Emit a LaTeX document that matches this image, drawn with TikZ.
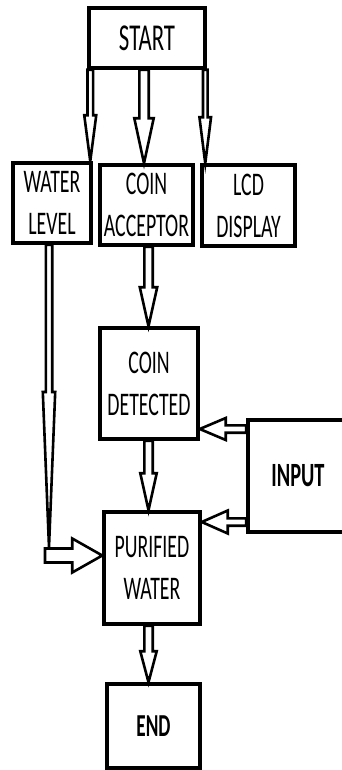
\documentclass[tikz,border=0pt]{standalone}
\usepackage{fontspec}
\newfontfamily\boxfont[FakeStretch=0.6]{Carlito}
\usetikzlibrary{calc}

\tikzset{
  box/.style={draw, line width=3.5pt, align=center, inner sep=0pt,
    font=\boxfont\fontsize{33}{42}\selectfont},
  arrowline/.style={draw, line width=2.6pt, fill=white, line join=miter},
}

% hollow block arrow: from, to, shaft half width, head half width, head length
\newcommand{\blockarrow}[5]{%
  \draw[arrowline] ($(#1)!#3!90:(#2)$) -- ($(#2)!#5!(#1)!#3!90:(#2)$)
    -- ($(#2)!#5!(#1)!#4!90:(#2)$) -- (#2)
    -- ($(#2)!#5!(#1)!#4!-90:(#2)$) -- ($(#2)!#5!(#1)!#3!-90:(#2)$)
    -- ($(#1)!#3!-90:(#2)$) -- cycle;}

\begin{document}
\begin{tikzpicture}[x=1pt, y=-1pt]
  \fill[white] (0,0) rectangle (342,770);
  \useasboundingbox (0,0) rectangle (342,770);

  % boxes
  \node[box, minimum width=116pt, minimum height=60pt,
    font=\boxfont\fontsize{38}{42}\selectfont] (start) at (147,38) {START};
  \node[box, minimum width=78pt, minimum height=80pt] (water) at (52,203) {WATER\\LEVEL};
  \node[box, minimum width=93pt, minimum height=80pt] (coinacc) at (146.5,205) {COIN\\ACCEPTOR};
  \node[box, minimum width=93pt, minimum height=81pt] (lcd) at (248.5,205.5) {LCD\\DISPLAY};
  \node[box, minimum width=98pt, minimum height=111pt] (coindet) at (149,383.5) {COIN\\DETECTED};
  \node[box, minimum width=100pt, minimum height=112pt, font=\boxfont\bfseries\fontsize{34}{42}\selectfont]
    (input) at (298,476) {INPUT};
  \node[box, minimum width=96pt, minimum height=112pt] (purified) at (152,568) {PURIFIED\\WATER};
  \node[box, minimum width=93pt, minimum height=84pt, font=\boxfont\bfseries\fontsize{32}{42}\selectfont]
    (end) at (153.5,726) {END};

  % arrow ends
  \coordinate (s1) at ([xshift=3pt]start.south west);
  \coordinate (s2) at ([xshift=-3pt]start.south);
  \coordinate (s3) at ([xshift=-1.5pt]start.south east);
  \coordinate (c1) at ([xshift=2pt]coinacc.south);
  \coordinate (w1) at ([xshift=-3pt]water.south);
  \coordinate (drop) at (49,547);
  \coordinate (elbow) at (45,555.5);
  \coordinate (i1) at ([yshift=47pt]input.west);
  \coordinate (i2) at ([yshift=-46pt]input.west);
  \coordinate (d1) at ([xshift=-0.5pt]coindet.south);
  \coordinate (p1) at ([xshift=-3.5pt]purified.south);

  % arrows
  \blockarrow{s1}{s1 |- water.north}{2.8pt}{6pt}{46pt}
  \blockarrow{s2}{s2 |- coinacc.north}{4.7pt}{9.7pt}{45pt}
  \blockarrow{s3}{s3 |- lcd.north}{2.3pt}{5.8pt}{46pt}
  \blockarrow{c1}{c1 |- coindet.north}{4.2pt}{8.7pt}{39pt}
  \blockarrow{w1}{drop}{3.2pt}{6.2pt}{155pt}
  \blockarrow{elbow}{elbow -| purified.west}{7pt}{17pt}{30pt}
  \blockarrow{i1}{i1 -| coindet.east}{3.7pt}{11pt}{26pt}
  \blockarrow{i2}{i2 -| purified.east}{3.7pt}{11.5pt}{26pt}
  \blockarrow{d1}{d1 |- purified.north}{4.2pt}{8.2pt}{37pt}
  \blockarrow{p1}{p1 |- end.north}{4.2pt}{8.2pt}{31pt}
\end{tikzpicture}
\end{document}
